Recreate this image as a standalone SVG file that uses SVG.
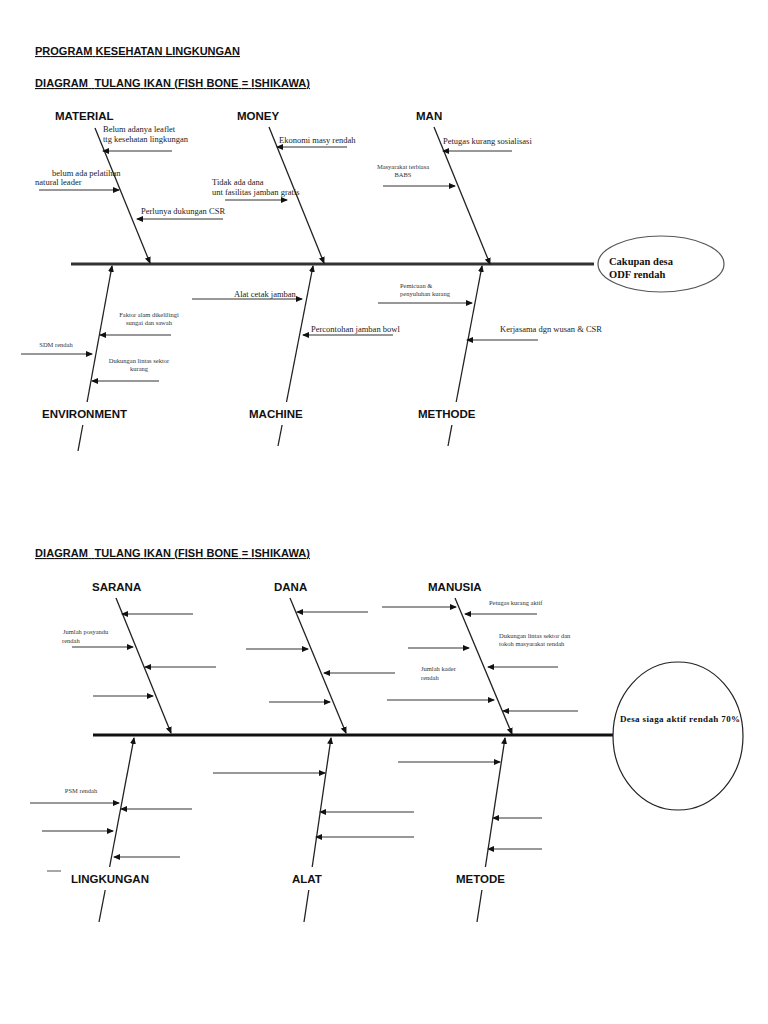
<svg xmlns="http://www.w3.org/2000/svg" width="768" height="1024" viewBox="0 0 768 1024">
<defs>
<marker id="ah" markerUnits="userSpaceOnUse" markerWidth="7" markerHeight="6" refX="6" refY="3" orient="auto"><path d="M0,0 L7,3 L0,6 Z" fill="#111"/></marker>
<style>
.title{font-family:"Liberation Sans",Arial,sans-serif;font-weight:bold;font-size:11px;fill:#111;text-decoration:underline}
.cat{font-family:"Liberation Sans",Arial,sans-serif;font-weight:bold;font-size:11.5px;fill:#111}
.lbl{font-family:"Liberation Serif","Times New Roman",serif;font-size:8.5px;fill:#222}
.sm{font-family:"Liberation Serif","Times New Roman",serif;font-size:6.5px;fill:#333}
.eff{font-family:"Liberation Serif","Times New Roman",serif;font-weight:bold;font-size:10.5px;fill:#111}
.spine{stroke:#333;stroke-width:3}
.spine2{stroke:#111;stroke-width:3}
.bone{stroke:#222;stroke-width:1.3;fill:none}
.sub{stroke:#333;stroke-width:1.2;fill:none}
.subg{stroke:#777;stroke-width:1.3;fill:none}
</style>
</defs>
<rect width="768" height="1024" fill="#fff"/>

<text class="title" x="35" y="55" textLength="205">PROGRAM KESEHATAN LINGKUNGAN</text>
<text class="title" x="35" y="87" textLength="275" xml:space="preserve">DIAGRAM  TULANG IKAN (FISH BONE = ISHIKAWA)</text>

<!-- Diagram 1 -->
<g id="spine1"><line class="spine" x1="71" y1="264" x2="594" y2="264"/></g>
<g id="effect1">
<ellipse cx="661" cy="264" rx="63" ry="28" fill="#fff" stroke="#555" stroke-width="1.2"/>
<text class="eff" x="609" y="265">Cakupan desa</text>
<text class="eff" x="609" y="278">ODF rendah</text>
</g>

<g id="material">
<text class="cat" x="55" y="120">MATERIAL</text>
<text class="lbl" x="103" y="132">Belum adanya leaflet</text>
<text class="lbl" x="103" y="142">ttg kesehatan lingkungan</text>
<text class="lbl" x="52" y="176">belum ada pelatihan</text>
<text class="lbl" x="35" y="185">natural leader</text>
<text class="lbl" x="141" y="214">Perlunya dukungan CSR</text>
</g>
<g id="money">
<text class="cat" x="237" y="120">MONEY</text>
<text class="lbl" x="279" y="143">Ekonomi masy rendah</text>
<text class="lbl" x="212" y="185">Tidak ada dana</text>
<text class="lbl" x="212" y="195">unt fasilitas jamban gratis</text>
</g>
<g id="man">
<text class="cat" x="416" y="120">MAN</text>
<text class="lbl" x="443" y="144">Petugas kurang sosialisasi</text>
<text class="sm" x="403" y="169" text-anchor="middle">Masyarakat terbiasa</text>
<text class="sm" x="403" y="177" text-anchor="middle">BABS</text>
</g>
<g id="environment">
<text class="cat" x="42" y="418">ENVIRONMENT</text>
<text class="sm" x="149" y="317" text-anchor="middle">Faktor alam dikelilingi</text>
<text class="sm" x="149" y="325" text-anchor="middle">sungai dan sawah</text>
<text class="sm" x="56" y="347" text-anchor="middle">SDM rendah</text>
<text class="sm" x="139" y="363" text-anchor="middle">Dukungan lintas sektor</text>
<text class="sm" x="139" y="371" text-anchor="middle">kurang</text>
</g>
<g id="machine">
<text class="cat" x="249" y="418">MACHINE</text>
<text class="lbl" x="234" y="297">Alat cetak jamban</text>
<text class="lbl" x="311" y="332">Percontohan jamban bowl</text>
</g>
<g id="methode">
<text class="cat" x="418" y="418">METHODE</text>
<text class="sm" x="400" y="288">Pemicuan &amp;</text>
<text class="sm" x="400" y="296">penyuluhan kurang</text>
<text class="lbl" x="500" y="332">Kerjasama dgn wusan &amp; CSR</text>
</g>

<g id="connectors1">
<line class="bone" x1="95" y1="128" x2="150" y2="263" marker-end="url(#ah)"/>
<line class="bone" x1="269" y1="127" x2="324" y2="263" marker-end="url(#ah)"/>
<line class="bone" x1="434" y1="127" x2="490" y2="264" marker-end="url(#ah)"/>
<line class="bone" x1="78" y1="451" x2="82.8" y2="425"/>
<line class="bone" x1="87.1" y1="402" x2="112" y2="266" marker-end="url(#ah)"/>
<line class="bone" x1="278" y1="446" x2="282.1" y2="425"/>
<line class="bone" x1="286.5" y1="402" x2="313" y2="266" marker-end="url(#ah)"/>
<line class="bone" x1="448" y1="446" x2="451.9" y2="425"/>
<line class="bone" x1="456.2" y1="402" x2="482" y2="266" marker-end="url(#ah)"/>

<line class="sub" x1="172" y1="151" x2="103" y2="151" marker-end="url(#ah)"/>
<line class="sub" x1="39" y1="190" x2="119" y2="190" marker-end="url(#ah)"/>
<line class="sub" x1="223" y1="219" x2="137" y2="219" marker-end="url(#ah)"/>
<line class="sub" x1="347" y1="147" x2="277" y2="147" marker-end="url(#ah)"/>
<line class="sub" x1="225" y1="200" x2="287" y2="200" marker-end="url(#ah)"/>
<line class="sub" x1="512" y1="151" x2="443" y2="151" marker-end="url(#ah)"/>
<line class="sub" x1="383" y1="186" x2="455" y2="186" marker-end="url(#ah)"/>
<line class="sub" x1="171" y1="335" x2="100" y2="335" marker-end="url(#ah)"/>
<line class="sub" x1="21" y1="354" x2="92" y2="354" marker-end="url(#ah)"/>
<line class="sub" x1="159" y1="381" x2="92" y2="381" marker-end="url(#ah)"/>
<line class="sub" x1="192" y1="299" x2="302" y2="299" marker-end="url(#ah)"/>
<line class="sub" x1="393" y1="335" x2="303" y2="335" marker-end="url(#ah)"/>
<line class="sub" x1="378" y1="303" x2="472" y2="303" marker-end="url(#ah)"/>
<line class="sub" x1="538" y1="340" x2="467" y2="340" marker-end="url(#ah)"/>
</g>

<!-- Diagram 2 -->
<text class="title" x="35" y="557" textLength="275" xml:space="preserve">DIAGRAM  TULANG IKAN (FISH BONE = ISHIKAWA)</text>
<g id="spine2"><line class="spine2" x1="93" y1="735" x2="613" y2="735"/></g>
<g id="effect2">
<ellipse cx="678" cy="736" rx="65" ry="74" fill="#fff" stroke="#222" stroke-width="1.2"/>
<text class="eff" x="620" y="722" style="font-size:9px" textLength="120">Desa siaga aktif rendah 70%</text>
</g>
<g id="sarana">
<text class="cat" x="92" y="591">SARANA</text>
<text class="sm" x="63" y="634">Jumlah posyandu</text>
<text class="sm" x="62" y="643">rendah</text>
</g>
<g id="dana">
<text class="cat" x="274" y="591">DANA</text>
</g>
<g id="manusia">
<text class="cat" x="428" y="591">MANUSIA</text>
<text class="sm" x="489" y="605">Petugas kurang aktif</text>
<text class="sm" x="499" y="638">Dukungan lintas sektor dan</text>
<text class="sm" x="499" y="646">tokoh masyarakat rendah</text>
<text class="sm" x="421" y="671">Jumlah kader</text>
<text class="sm" x="421" y="680">rendah</text>
</g>
<g id="lingkungan">
<text class="cat" x="71" y="883">LINGKUNGAN</text>
<text class="sm" x="81" y="793" text-anchor="middle">PSM rendah</text>
</g>
<g id="alat">
<text class="cat" x="292" y="883">ALAT</text>
</g>
<g id="metode">
<text class="cat" x="456" y="883">METODE</text>
</g>

<g id="connectors2">
<line class="bone" x1="116" y1="598" x2="171" y2="733" marker-end="url(#ah)"/>
<line class="bone" x1="290" y1="598" x2="346" y2="733" marker-end="url(#ah)"/>
<line class="bone" x1="455" y1="598" x2="512" y2="734" marker-end="url(#ah)"/>
<line class="bone" x1="99" y1="922" x2="105.2" y2="890"/>
<line class="bone" x1="109.6" y1="867" x2="134" y2="738" marker-end="url(#ah)"/>
<line class="bone" x1="304" y1="922" x2="308.8" y2="890"/>
<line class="bone" x1="312.2" y1="867" x2="331" y2="738" marker-end="url(#ah)"/>
<line class="bone" x1="477" y1="922" x2="481.9" y2="890"/>
<line class="bone" x1="485.4" y1="867" x2="505" y2="738" marker-end="url(#ah)"/>

<line class="sub" x1="193" y1="614" x2="122" y2="614" marker-end="url(#ah)"/>
<line class="subg" x1="72" y1="647" x2="133" y2="647" marker-end="url(#ah)"/>
<line class="subg" x1="216" y1="667" x2="145" y2="667" marker-end="url(#ah)"/>
<line class="subg" x1="93" y1="696" x2="153" y2="696" marker-end="url(#ah)"/>

<line class="sub" x1="368" y1="612" x2="297" y2="612" marker-end="url(#ah)"/>
<line class="sub" x1="246" y1="649" x2="308" y2="649" marker-end="url(#ah)"/>
<line class="subg" x1="395" y1="673" x2="324" y2="673" marker-end="url(#ah)"/>
<line class="subg" x1="269" y1="702" x2="330" y2="702" marker-end="url(#ah)"/>

<line class="sub" x1="382" y1="607" x2="456" y2="607" marker-end="url(#ah)"/>
<line class="sub" x1="537" y1="614" x2="465" y2="614" marker-end="url(#ah)"/>
<line class="sub" x1="408" y1="648" x2="469" y2="648" marker-end="url(#ah)"/>
<line class="subg" x1="558" y1="667" x2="488" y2="667" marker-end="url(#ah)"/>
<line class="subg" x1="387" y1="700" x2="494" y2="700" marker-end="url(#ah)"/>
<line class="subg" x1="578" y1="711" x2="503" y2="711" marker-end="url(#ah)"/>

<line class="subg" x1="30" y1="803" x2="119" y2="803" marker-end="url(#ah)"/>
<line class="sub" x1="192" y1="809" x2="121" y2="809" marker-end="url(#ah)"/>
<line class="sub" x1="42" y1="831" x2="113" y2="831" marker-end="url(#ah)"/>
<line class="sub" x1="180" y1="857" x2="114" y2="857" marker-end="url(#ah)"/>
<line class="subg" x1="47" y1="871" x2="61" y2="871"/>

<line class="sub" x1="213" y1="773" x2="325" y2="773" marker-end="url(#ah)"/>
<line class="subg" x1="414" y1="812" x2="320" y2="812" marker-end="url(#ah)"/>
<line class="sub" x1="414" y1="837" x2="316" y2="837" marker-end="url(#ah)"/>

<line class="subg" x1="398" y1="762" x2="500" y2="762" marker-end="url(#ah)"/>
<line class="subg" x1="542" y1="818" x2="493" y2="818" marker-end="url(#ah)"/>
<line class="subg" x1="542" y1="849" x2="488" y2="849" marker-end="url(#ah)"/>
</g>
</svg>
